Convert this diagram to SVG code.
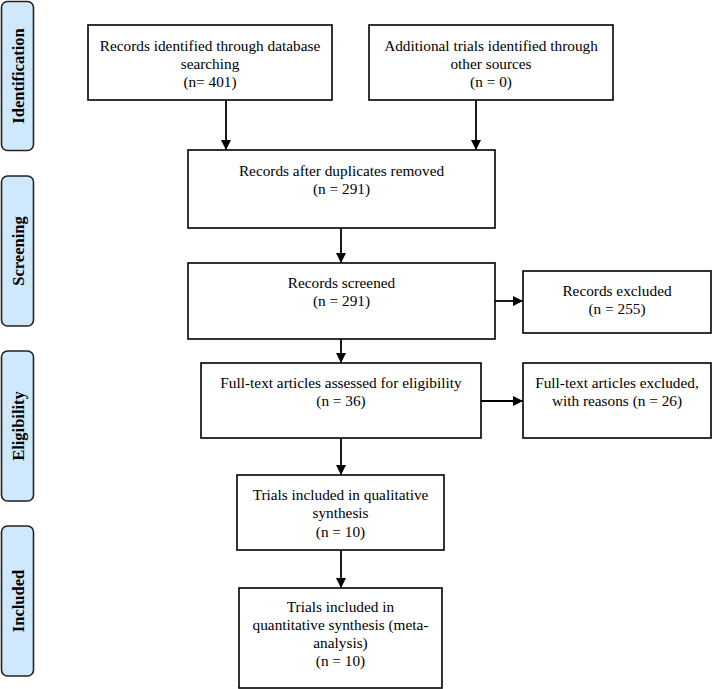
<svg xmlns="http://www.w3.org/2000/svg" width="712" height="689" viewBox="0 0 712 689">
<style>
.box{fill:#fff;stroke:#000;stroke-width:1.6}
.side{fill:#cfe8fb;stroke:#222;stroke-width:1.6}
.t{font-family:"Liberation Serif","Times New Roman",serif;font-size:15.3px;text-anchor:middle;fill:#000}
.s{font-family:"Liberation Serif","Times New Roman",serif;font-size:16.5px;font-weight:bold;text-anchor:middle;fill:#000}
.c{stroke:#000;stroke-width:1.8;fill:none;marker-end:url(#ah)}
</style>
<defs>
<marker id="ah" viewBox="0 0 10 10" refX="10" refY="5" markerWidth="10" markerHeight="10" markerUnits="userSpaceOnUse" orient="auto">
<path d="M0,0 L10,5 L0,10 Z" fill="#000"/>
</marker>
</defs>
<rect width="712" height="689" fill="#fff"/>
<g id="stage-identification"><rect class="side" x="1.5" y="1.5" width="32" height="149" rx="6"/><text class="s" transform="translate(23.5,76) rotate(-90)">Identification</text></g>
<g id="stage-screening"><rect class="side" x="1.5" y="176" width="32" height="150" rx="6"/><text class="s" transform="translate(23.5,251) rotate(-90)">Screening</text></g>
<g id="stage-eligibility"><rect class="side" x="1.5" y="351" width="32" height="150" rx="6"/><text class="s" transform="translate(23.5,426) rotate(-90)">Eligibility</text></g>
<g id="stage-included"><rect class="side" x="1.5" y="526" width="32" height="150" rx="6"/><text class="s" transform="translate(23.5,601) rotate(-90)">Included</text></g>

<g id="n1"><rect class="box" x="88" y="25" width="244" height="75"/>
<text class="t" x="210" y="51">Records identified through database</text>
<text class="t" x="210" y="69">searching</text>
<text class="t" x="210" y="87">(n= 401)</text></g>
<g id="n2"><rect class="box" x="369" y="25" width="244" height="75"/>
<text class="t" x="491" y="51">Additional trials identified through</text>
<text class="t" x="491" y="69">other sources</text>
<text class="t" x="491" y="87">(n = 0)</text></g>
<g id="n3"><rect class="box" x="188" y="150" width="307" height="78"/>
<text class="t" x="341.5" y="176">Records after duplicates removed</text>
<text class="t" x="341.5" y="194">(n = 291)</text></g>
<g id="n4"><rect class="box" x="188" y="263" width="307" height="76"/>
<text class="t" x="341.5" y="288">Records screened</text>
<text class="t" x="341.5" y="306">(n = 291)</text></g>
<g id="n5"><rect class="box" x="523" y="271" width="188" height="62"/>
<text class="t" x="617" y="296">Records excluded</text>
<text class="t" x="617" y="314">(n = 255)</text></g>
<g id="n6"><rect class="box" x="201" y="363" width="280" height="75"/>
<text class="t" x="341" y="388">Full-text articles assessed for eligibility</text>
<text class="t" x="341" y="406">(n = 36)</text></g>
<g id="n7"><rect class="box" x="523" y="363" width="188" height="75"/>
<text class="t" x="617" y="388">Full-text articles excluded,</text>
<text class="t" x="617" y="406">with reasons (n = 26)</text></g>
<g id="n8"><rect class="box" x="237" y="475" width="207" height="75"/>
<text class="t" x="340.5" y="500">Trials included in qualitative</text>
<text class="t" x="340.5" y="518">synthesis</text>
<text class="t" x="340.5" y="537">(n = 10)</text></g>
<g id="n9"><rect class="box" x="239" y="588" width="203" height="100"/>
<text class="t" x="340.5" y="612">Trials included in</text>
<text class="t" x="340.5" y="630">quantitative synthesis (meta-</text>
<text class="t" x="340.5" y="648">analysis)</text>
<text class="t" x="340.5" y="666">(n = 10)</text></g>

<g id="connectors">
<line class="c" x1="226" y1="100" x2="226" y2="150"/>
<line class="c" x1="476" y1="100" x2="476" y2="150"/>
<line class="c" x1="341" y1="228" x2="341" y2="263"/>
<line class="c" x1="341" y1="339" x2="341" y2="363"/>
<line class="c" x1="495" y1="301" x2="523" y2="301"/>
<line class="c" x1="481" y1="401" x2="523" y2="401"/>
<line class="c" x1="341" y1="438" x2="341" y2="475"/>
<line class="c" x1="341" y1="550" x2="341" y2="588"/>
</g>
</svg>
